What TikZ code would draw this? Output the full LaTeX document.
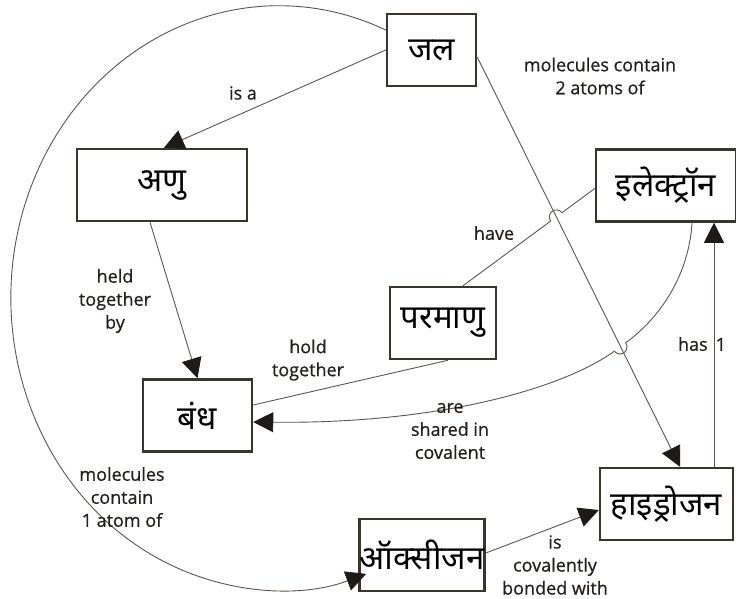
\documentclass[tikz,border=0pt]{standalone}
\usepackage{fontspec}
\setmainfont{Open Sans}[FakeBold=0.6]
\newfontfamily\dev[Script=Devanagari]{Noto Sans}
\usetikzlibrary{arrows.meta,calc,intersections}
\definecolor{boxc}{HTML}{3A3330}
\definecolor{linec}{HTML}{5E5550}
\definecolor{tipc}{HTML}{1E1A18}
\definecolor{txtc}{HTML}{231F1D}
\begin{document}
\begin{tikzpicture}[x=1pt,y=-1pt,
  concept/.style={draw=boxc, line width=2.5pt, fill=white, minimum height=72pt,
    inner sep=0pt, font=\fontsize{33}{36}\selectfont\dev, text=black},
  conn/.style={draw=linec, line width=0.9pt},
  arr/.style={-{Triangle[length=20pt,width=20pt,color=tipc]}},
  lab/.style={font=\fontsize{18}{23}\selectfont, text=txtc, align=center, inner sep=0pt}]
\fill[white] (0,0) rectangle (736,598);
\useasboundingbox (0,0) rectangle (736,598);

% concepts
\node[concept, minimum width=89pt]  (jal) at (431.5,50)  {जल};
\node[concept, minimum width=170pt] (anu) at (162,185)   {अणु};
\node[concept, minimum width=140pt] (ele) at (666,185.5) {इलेक्ट्रॉन};
\node[concept, minimum width=106pt] (par) at (443,323)   {परमाणु};
\node[concept, minimum width=109pt] (bandh) at (197.5,415.5) {बंध};
\node[concept, minimum width=110pt] (oxy) at (422,555)   {ऑक्सीजन};
\node[concept, minimum width=133pt] (hyd) at (666.5,504) {हाइड्रोजन};

% anchor points
\coordinate (jA) at ([yshift=-7pt]jal.east);
\coordinate (hA) at ([xshift=13.5pt]hyd.north);
\coordinate (pA) at ([xshift=20pt]par.north);
\coordinate (eA) at ([yshift=-3pt]ele.west);
\coordinate (h1) at ([xshift=47.5pt]hyd.north);
\coordinate (eB) at ([xshift=26pt]ele.south);
\coordinate (bA) at ([yshift=-6.5pt]bandh.east);

% jal -> anu
\draw[conn, arr] (jal.west) -- ([xshift=2pt]anu.north);
% jal -> oxy (big arc)
\draw[conn, arr] ([yshift=20pt]jal.west) arc[start angle=66.5, end angle=289, x radius=268pt, y radius=292pt];
% anu -> bandh
\draw[conn, arr] ([xshift=-12pt]anu.south) -- (bandh.north);
% jal -> hyd
\draw[conn, arr] (jA) -- (hA);
% hyd -> ele
\draw[conn, arr] (h1) -- (h1 |- ele.south);
% par -> ele (have) with hop
\path[name path=jh] (jA) -- (hA);
\path[name path=ph] (pA) -- (eA);
\path[name intersections={of=jh and ph, by=X1}];
\draw[conn] (pA) -- ($(X1)!7pt!(pA)$) let \p1=($(eA)-(pA)$), \n1={atan2(\y1,\x1)} in
  arc[start angle=\n1+180, end angle=\n1, radius=7pt] -- (eA);
% ele -> bandh (are shared in covalent) with hop
\draw[conn, arr] (eB) .. controls (689,275) and (660,318) .. (625.6,342.8)
  arc[start angle=396.87, end angle=216.87, radius=7pt]
  .. controls (560,390) and (435,424) .. (bA);
% par -> bandh (hold together)
\draw[conn] ([xshift=5pt]par.south) -- ([yshift=10.5pt]bandh.east);
% oxy -> hyd
\draw[conn, arr] ([yshift=2pt]oxy.east) -- ([yshift=-6pt]hyd.west);

% labels
\node[lab] (l1) at (243,93) {is a};
\node[lab] (l2) at (600,76) {molecules contain\\2 atoms of};
\node[lab] (l3) at (115,301) {held\\together\\by};
\node[lab] (l4) at (494,233) {have};
\node[lab] (l5) at (308,360) {hold\\together};
\node[lab] (l6) at (450,431) {are\\shared in\\covalent};
\node[lab] (l7) at (702,344) {has\hspace{8pt}1};
\node[lab] (l8) at (555,565) {is\\covalently\\bonded with};
\node[lab] (l9) at (122,497) {molecules\\contain\\1 atom of};
\end{tikzpicture}
\end{document}
